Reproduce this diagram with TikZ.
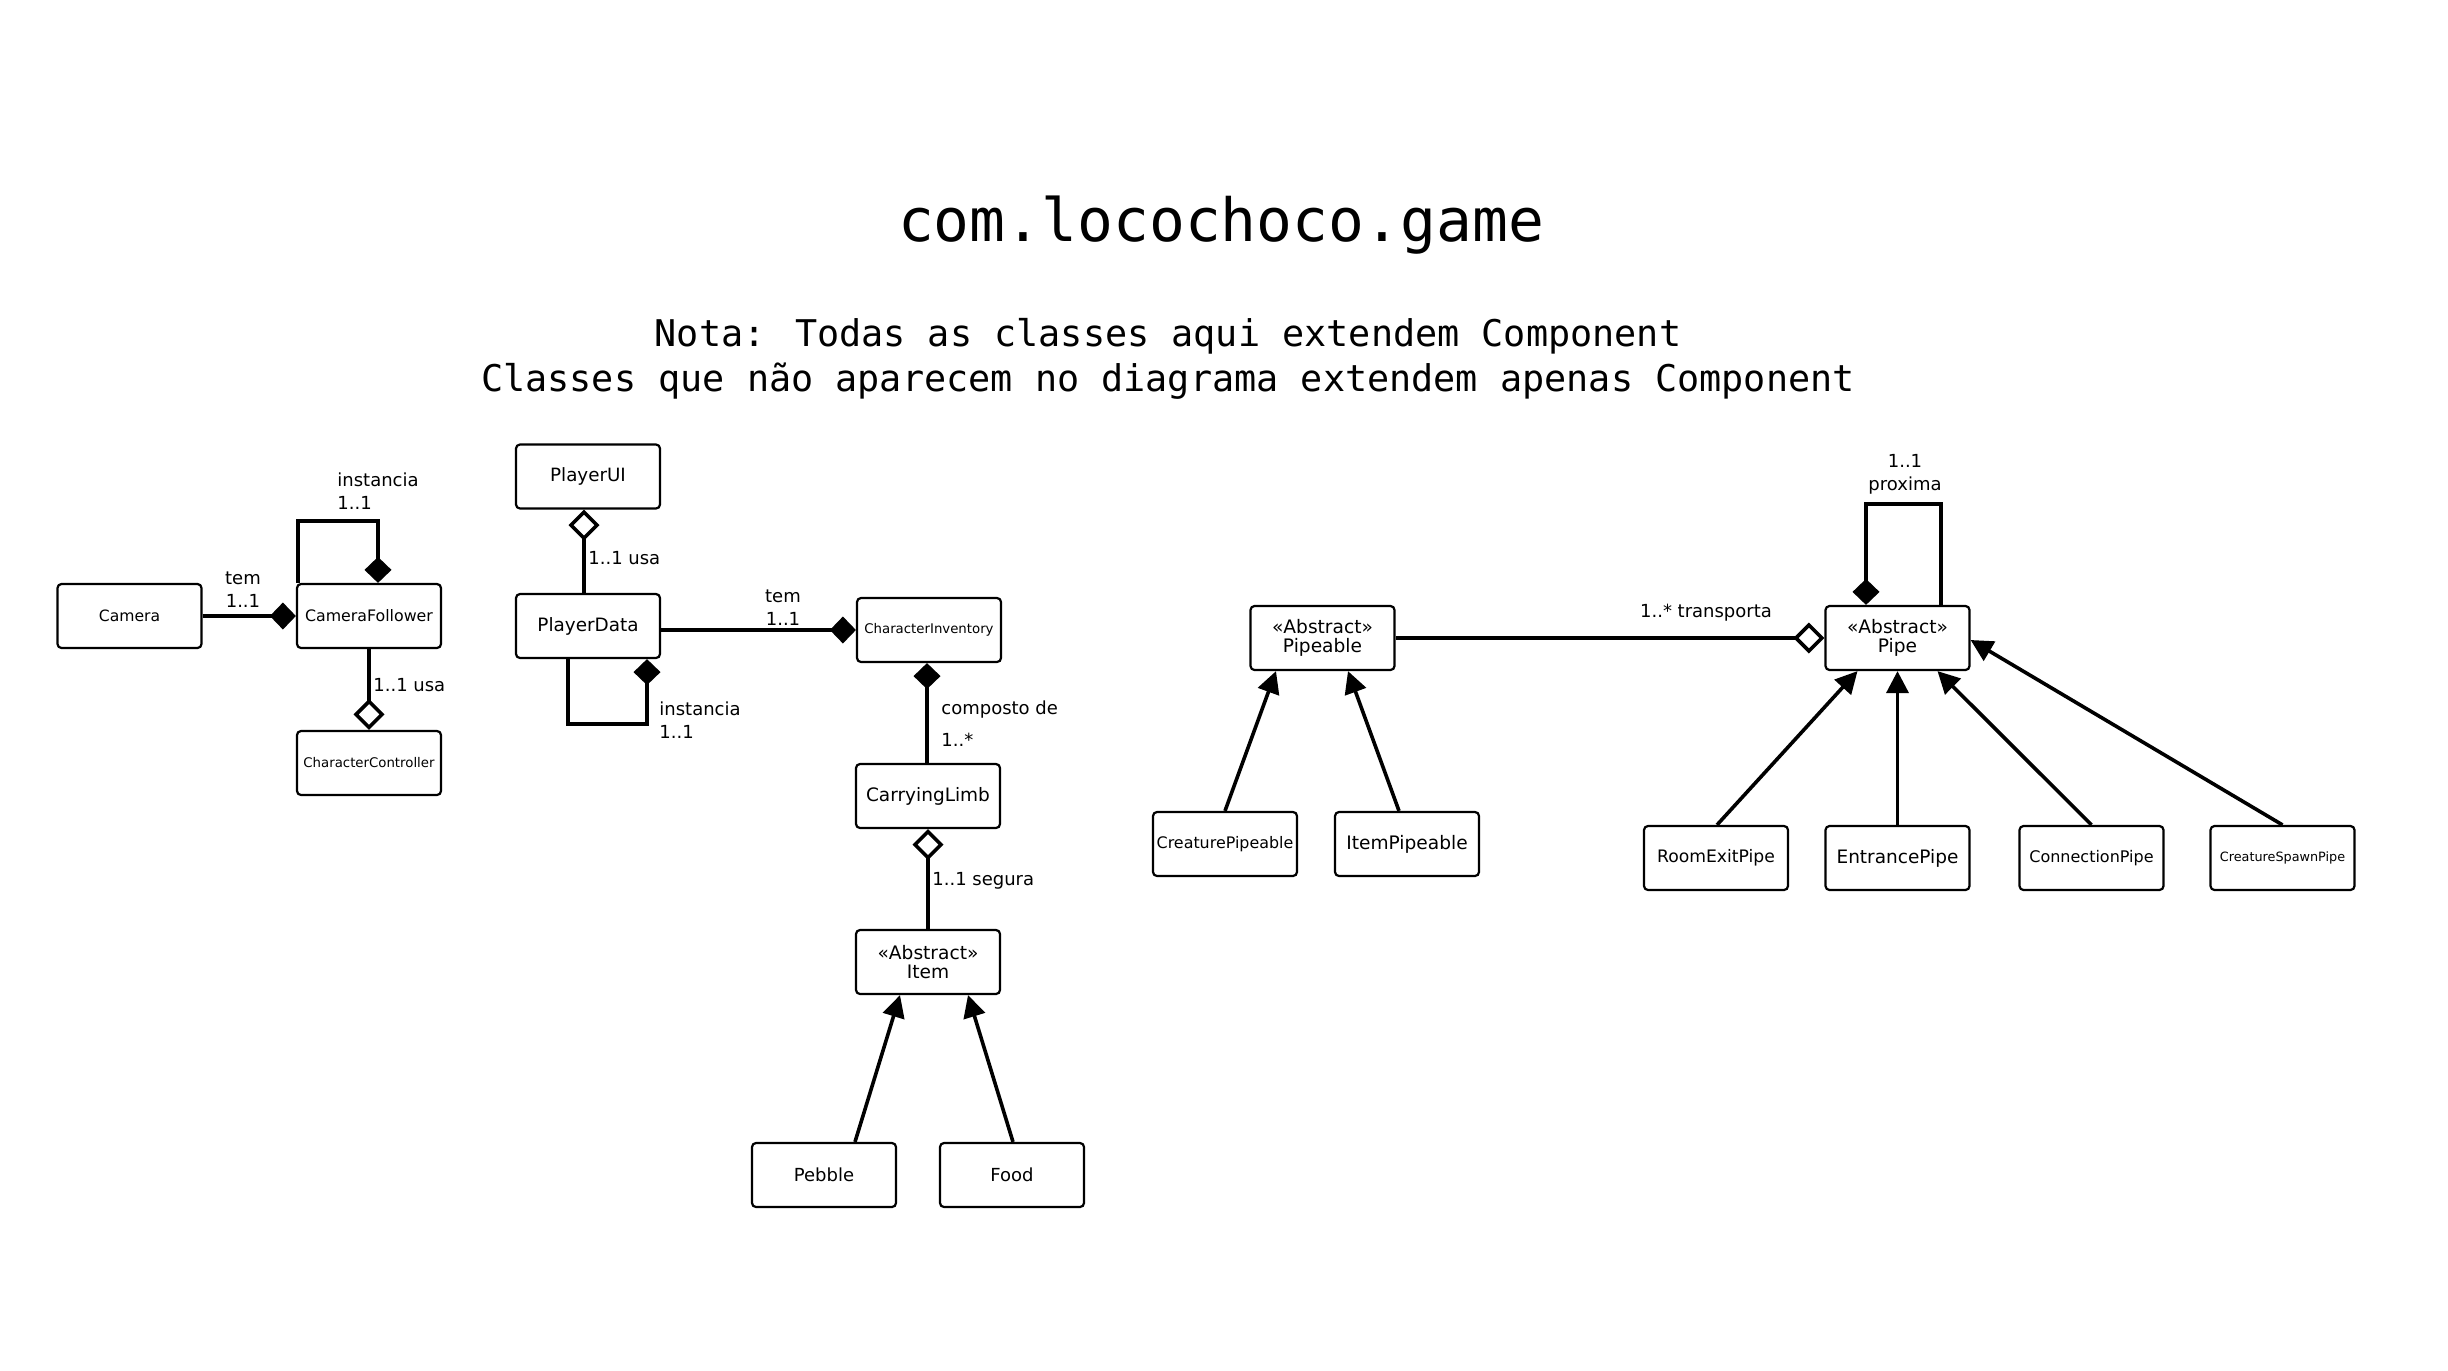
\documentclass[tikz,border=0pt]{standalone}
\usepackage{fontspec}
\setmainfont{DejaVu Sans}
\newfontfamily\monofont{DejaVu Sans Mono}
\usetikzlibrary{arrows.meta,calc}
\tikzset{
  cls/.style={draw, line width=1.1pt, rounded corners=2pt, minimum width=72pt, minimum height=32pt, inner sep=0pt, align=center, fill=white},
  conn/.style={line width=1.8pt},
  comp/.style={conn, -{Diamond[length=13pt,width=13.5pt]}},
  aggr/.style={conn, -{Diamond[open,length=15.5pt,width=15.5pt,fill=white]}},
  gen/.style={conn, -{Triangle[length=11pt,width=11pt]}},
  lbl/.style={font=\fontsize{9}{11.5}\selectfont, inner sep=0pt, align=left}
}
\begin{document}
\begin{tikzpicture}[x=0.5pt,y=-0.5pt]
\useasboundingbox (0,0) rectangle (2448,1371);

% titles
\node[font=\monofont\fontsize{29.8}{32}\selectfont] (title) at (1221,225) {com.locochoco.game};
\node[font=\monofont\fontsize{18.4}{20}\selectfont] (nota1) at (1168,336) {Nota: Todas as classes aqui extendem Component};
\node[font=\monofont\fontsize{18.4}{20}\selectfont] (nota2) at (1168,381) {Classes que não aparecem no diagrama extendem apenas Component};

% classes
\node[cls, font=\fontsize{7.8}{9}\selectfont] (camera) at (129.5,616) {Camera};
\node[cls, font=\fontsize{7.9}{9}\selectfont] (camfol) at (369,616) {CameraFollower};
\node[cls, font=\fontsize{6.65}{8}\selectfont] (charctrl) at (369,763) {CharacterController};
\node[cls, font=\fontsize{9.15}{10}\selectfont] (playerui) at (588,476.5) {PlayerUI};
\node[cls, font=\fontsize{9.2}{10}\selectfont] (playerdata) at (588,626) {PlayerData};
\node[cls, font=\fontsize{6.65}{8}\selectfont] (charinv) at (929,630) {CharacterInventory};
\node[cls, font=\fontsize{9.25}{10}\selectfont] (carrying) at (928,796) {CarryingLimb};
\node[cls, font=\fontsize{9.3}{9.5}\selectfont] (item) at (928,962) {«Abstract»\\Item};
\node[cls, font=\fontsize{9}{10}\selectfont] (pebble) at (824,1175) {Pebble};
\node[cls, font=\fontsize{9}{10}\selectfont] (food) at (1012,1175) {Food};

\node[cls, font=\fontsize{9.3}{9.5}\selectfont] (pipeable) at (1322.5,638) {«Abstract»\\Pipeable};
\node[cls, font=\fontsize{7.95}{9}\selectfont] (creaturepip) at (1225,844) {CreaturePipeable};
\node[cls, font=\fontsize{9.3}{10}\selectfont] (itempip) at (1407,844) {ItemPipeable};
\node[cls, font=\fontsize{9.3}{9.5}\selectfont] (pipe) at (1897.5,638) {«Abstract»\\Pipe};
\node[cls, font=\fontsize{8.6}{9}\selectfont] (roomexit) at (1716,858) {RoomExitPipe};
\node[cls, font=\fontsize{9.25}{10}\selectfont] (entrance) at (1897.5,858) {EntrancePipe};
\node[cls, font=\fontsize{8.0}{9}\selectfont] (connection) at (2091.5,858) {ConnectionPipe};
\node[cls, font=\fontsize{6.4}{8}\selectfont] (spawn) at (2282.5,858) {CreatureSpawnPipe};

% connectors
\draw[comp] (camera.east) -- (camfol.west);
\draw[comp] ($(camfol.north west)+(2,0)$) -- ++(0,-62) -| ($(camfol.north)+(9,0)$);
\draw[aggr] (camfol.south) -- (charctrl.north);

\draw[aggr] ($(playerdata.north)+(-4,0)$) -- ($(playerui.south)+(-4,0)$);
\draw[comp] (playerdata.east |- charinv.west) -- (charinv.west);
\draw[comp] ($(playerdata.south)+(-20,0)$) -- ++(0,65) -| ($(playerdata.south)+(59,0)$);
\draw[comp] ($(carrying.north)+(-1,0)$) -- ($(charinv.south)+(-2,0)$);
\draw[aggr] (item.north) -- (carrying.south);
\draw[gen] ($(pebble.north)+(31,0)$) -- ($(item.south)+(-28,0)$);
\draw[gen] ($(food.north)+(1,0)$) -- ($(item.south)+(40,0)$);

\draw[gen] (creaturepip.north) -- ($(pipeable.south)+(-46.5,0)$);
\draw[gen] ($(itempip.north)+(-8,0)$) -- ($(pipeable.south)+(25.5,0)$);
\draw[aggr] (pipeable.east) -- (pipe.west);
\draw[comp] ($(pipe.north)+(43.5,0)$) -- ++(0,-101) -| ($(pipe.north)+(-31.5,0)$);
\draw[gen] ($(roomexit.north)+(1,0)$) -- ($(pipe.south)+(-40,0)$);
\draw[gen] (entrance.north) -- (pipe.south);
\draw[gen] (connection.north) -- ($(pipe.south)+(40,0)$);
\draw[gen] (spawn.north) -- ($(pipe.east)+(0,2)$);

% labels
\node[lbl, align=center] (l1) at (243,590) {tem\\1..1};
\node[lbl, anchor=west] (l2) at (337,491) {instancia\\1..1};
\node[lbl, anchor=west] (l3) at (373,685) {1..1 usa};
\node[lbl, anchor=west] (l4) at (588,558) {1..1 usa};
\node[lbl, align=center] (l5) at (783,608) {tem\\1..1};
\node[lbl, anchor=west] (l6) at (659,720) {instancia\\1..1};
\node[lbl, anchor=west] (l7) at (941,710) {composto de};
\node[lbl, anchor=west] (l8) at (941,740) {1..*};
\node[lbl, anchor=west] (l9) at (932,881) {1..1 segura};
\node[lbl] (l10) at (1706,613) {1..* transporta};
\node[lbl, align=center] (l11) at (1905,474) {1..1\\proxima};
\end{tikzpicture}
\end{document}
